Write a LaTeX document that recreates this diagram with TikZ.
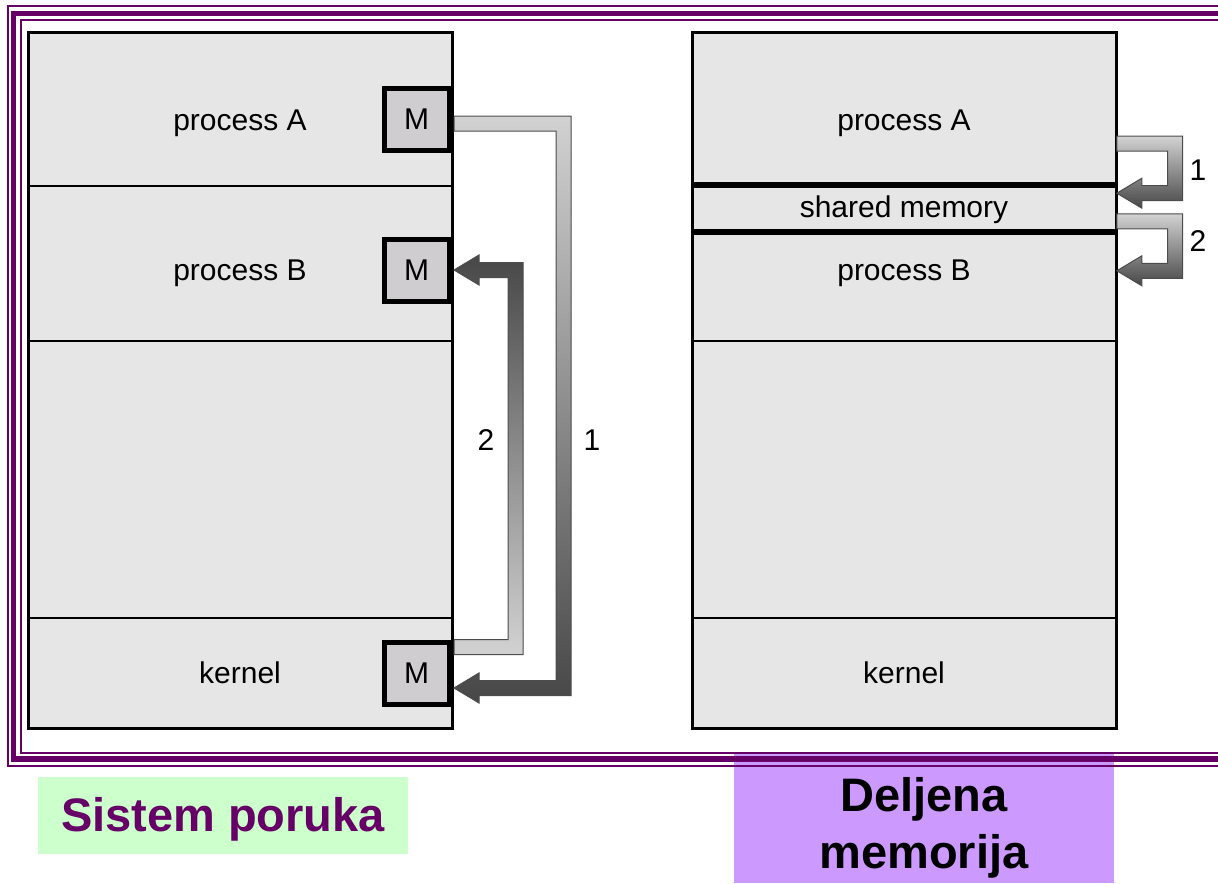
\documentclass[tikz,border=0pt]{standalone}
\usepackage{fontspec}
\setmainfont{Liberation Sans}
\usetikzlibrary{calc}

\definecolor{plum}{HTML}{660066}
\definecolor{panel}{HTML}{E6E6E6}
\definecolor{mbox}{HTML}{CFCDD0}
\definecolor{mint}{HTML}{CCFFCC}
\definecolor{lilac}{HTML}{CC99FF}
\definecolor{pale}{HTML}{D2D2D2}
\definecolor{dark}{HTML}{474747}

% #1 from, #2 to, #3 column, #4 signed half width, #5 looks
\newcommand{\bentarrow}[5]{%
  \path[#5] let \p1=#1, \p2=#2, \p3=#3 in
    (\x1,\y1+#4) -- (\x3+3.75pt,\y1+#4) -- (\x3+3.75pt,\y2-#4)
    -- (\x2+12.5pt,\y2-#4) -- (\x2+12.5pt,\y2-2*#4) -- (\x2,\y2)
    -- (\x2+12.5pt,\y2+2*#4) -- (\x2+12.5pt,\y2+#4)
    -- (\x3-3.75pt,\y2+#4) -- (\x3-3.75pt,\y1-#4) -- (\x1,\y1-#4) -- cycle;}

\begin{document}
\begin{tikzpicture}[x=0.5pt, y=-0.5pt,
    every node/.style={font=\fontsize{15}{18}\selectfont},
    section/.style={draw, line width=0.8pt, fill=panel, minimum width=211.5pt, inner sep=0pt},
    msg/.style={draw, line width=2.5pt, fill=mbox, minimum width=32.5pt, minimum height=31pt, inner sep=0pt},
    lbl/.style={inner sep=0pt, text height=10.7pt, text depth=0pt},
    down/.style={top color=pale, bottom color=dark, draw=black!70, line width=0.5pt},
    up/.style={top color=dark, bottom color=pale, draw=black!70, line width=0.5pt}]
    \useasboundingbox (0,0) rectangle (1218,883);
    \pgfmathsetmacro\lx{240.5}
    \pgfmathsetmacro\rx{904.5}

    \node[section, minimum height=76.5pt] (lA) at (\lx,109.5) {};
    \node[section, minimum height=77.5pt] (lB) at (\lx,263.5) {};
    \node[section, minimum height=138.5pt] (lC) at (\lx,479.5) {};
    \node[section, minimum height=55pt] (lK) at (\lx,673) {};
    \draw[line width=1.2pt] (lA.north west) rectangle (lK.south east);

    \node[section, minimum height=76.5pt] (rA) at (\rx,109.5) {};
    \node[section, minimum height=22.5pt] (rS) at (\rx,208.5) {};
    \node[section, minimum height=55pt] (rB) at (\rx,286) {};
    \node[section, minimum height=138.5pt] (rC) at (\rx,479.5) {};
    \node[section, minimum height=55pt] (rK) at (\rx,673) {};
    \draw[line width=1.2pt] (rA.north west) rectangle (rK.south east);
    \draw[line width=3pt] (rS.north west) -- (rS.north east);
    \draw[line width=3pt] (rS.south west) -- (rS.south east);

    \node[msg] (mA) at (416.5,119.5) {M};
    \node[msg] (mB) at (416.5,270) {M};
    \node[msg] (mK) at (416.5,673.5) {M};

    \node[lbl] (pA) at (240,120) {process A};
    \node[lbl] (pB) at (240,270) {process B};
    \node[lbl] (kl) at (240,673) {kernel};
    \node[lbl] (qA) at (904,120) {process A};
    \node[lbl] (sm) at (904,207) {shared memory};
    \node[lbl] (qB) at (904,270) {process B};
    \node[lbl] (kr) at (904,673) {kernel};

    \bentarrow{([shift={(1.25pt,-2pt)}]mA.east)}{([shift={(1.25pt,-7.25pt)}]mK.east)}{(563.5,0)}{3.75pt}{down}
    \bentarrow{([shift={(1.25pt,13.25pt)}]mK.east)}{([shift={(1.25pt,0pt)}]mB.east)}{(515.5,0)}{-3.75pt}{up}
    \bentarrow{([yshift=20.75pt]rS.north east)}{([yshift=-4pt]rS.north east)}{(1175,0)}{3.75pt}{down}
    \bentarrow{([yshift=5.25pt]rS.south east)}{([yshift=-19.5pt]rS.south east)}{(1175,0)}{3.75pt}{down}

    \node[lbl] (n2) at (486,440) {2};
    \node[lbl] (n1) at (592,440) {1};
    \node[lbl] (r1) at (1198,170) {1};
    \node[lbl] (r2) at (1198,241) {2};

    \node[fill=mint, minimum width=185pt, minimum height=38.5pt, inner sep=0pt,
      text height=16.8pt, text depth=0pt, text=plum,
      font=\bfseries\fontsize{23.5}{28}\selectfont] (sp) at (223,815) {Sistem poruka};
    \node[fill=lilac, minimum width=190pt, minimum height=65pt, inner sep=0pt] (dm) at (924,818) {};
    \node[align=center, font=\bfseries\fontsize{23.5}{28.5}\selectfont] (dmt)
      at ([yshift=-4.75pt]dm.center) {Deljena\\memorija};

    \draw[plum, line width=1pt] (1218,6) -- (7.5,6) -- (7.5,766) -- (1218,766);
    \draw[plum, line width=2.75pt] (1218,13.5) -- (13.5,13.5) -- (13.5,759) -- (1218,759);
    \draw[plum, line width=1pt] (1218,20.5) -- (20.5,20.5) -- (20.5,752.5) -- (1218,752.5);
\end{tikzpicture}
\end{document}
